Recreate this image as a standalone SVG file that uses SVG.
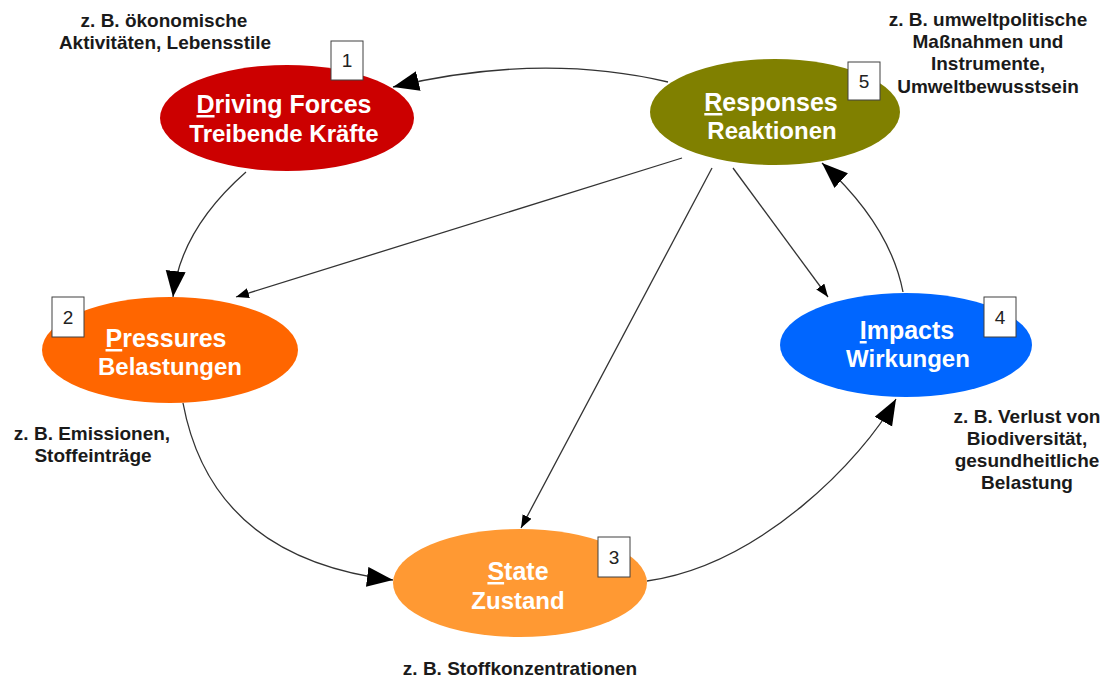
<svg xmlns="http://www.w3.org/2000/svg" width="1107" height="681" viewBox="0 0 1107 681">
<style>
.lbl{font-family:"Liberation Sans",Arial,sans-serif;font-weight:bold;fill:#fff;text-anchor:middle}
.l1{font-size:25px}
.l2{font-size:24px}
.u{text-decoration:underline}
.note{font-family:"Liberation Sans",Arial,sans-serif;font-weight:bold;font-size:19px;fill:#1a1a1a;text-anchor:middle}
.num rect{fill:#fff;stroke:#404040;stroke-width:1}
.num text{font-family:"Liberation Sans",Arial,sans-serif;font-size:19px;fill:#222;text-anchor:middle}
.edge{fill:none;stroke:#333;stroke-width:1.3}
</style>
<defs>
<marker id="big" markerUnits="userSpaceOnUse" markerWidth="28" markerHeight="22" refX="26" refY="10" orient="auto">
<path d="M0,0 L26,10 L0,20 z" fill="#000"/>
</marker>
<marker id="small" markerUnits="userSpaceOnUse" markerWidth="15" markerHeight="11" refX="13" refY="5" orient="auto">
<path d="M0,0 L13,5 L0,10 z" fill="#000"/>
</marker>
</defs>
<rect width="1107" height="681" fill="#fff"/>

<g id="connectors">
<path class="edge" d="M668,82 Q540,52 393,87" marker-end="url(#big)"/>
<path class="edge" d="M246,172 Q180,230 173,297" marker-end="url(#big)"/>
<path class="edge" d="M183,403 Q212,558 393,580" marker-end="url(#big)"/>
<path class="edge" d="M647,581 C760,565 862,460 896,399" marker-end="url(#big)"/>
<path class="edge" d="M903,292 Q890,225 822,163" marker-end="url(#big)"/>
<path class="edge" d="M682,158 L236,297" marker-end="url(#small)"/>
<path class="edge" d="M712,168 L521,528" marker-end="url(#small)"/>
<path class="edge" d="M733,168 L828,297" marker-end="url(#small)"/>
</g>

<g id="driving">
<ellipse cx="287" cy="118" rx="127" ry="53" fill="#CC0000"/>
<text class="lbl l1" x="284" y="113"><tspan class="u">D</tspan>riving Forces</text>
<text class="lbl l2" x="284" y="142">Treibende Kräfte</text>
</g>

<g id="responses">
<ellipse cx="775" cy="112" rx="125" ry="53" fill="#808000"/>
<text class="lbl l1" x="771" y="111"><tspan class="u">R</tspan>esponses</text>
<text class="lbl l2" x="772" y="139">Reaktionen</text>
</g>

<g id="pressures">
<ellipse cx="170" cy="350" rx="128" ry="53" fill="#FF6600"/>
<text class="lbl l1" x="166" y="347"><tspan class="u">P</tspan>ressures</text>
<text class="lbl l2" x="170" y="375">Belastungen</text>
</g>

<g id="impacts">
<ellipse cx="906" cy="345" rx="126" ry="52" fill="#0066FF"/>
<text class="lbl l1" x="907" y="339"><tspan class="u">I</tspan>mpacts</text>
<text class="lbl l2" x="908" y="367">Wirkungen</text>
</g>

<g id="state">
<ellipse cx="520" cy="583" rx="127" ry="54" fill="#FF9933"/>
<text class="lbl l1" x="518" y="580"><tspan class="u">S</tspan>tate</text>
<text class="lbl l2" x="518" y="609">Zustand</text>
</g>

<g id="num1" class="num"><rect x="331" y="41" width="32" height="39"/><text x="347" y="67">1</text></g>
<g id="num2" class="num"><rect x="52" y="297" width="32" height="40"/><text x="68" y="324">2</text></g>
<g id="num3" class="num"><rect x="598" y="537" width="32" height="40"/><text x="614" y="564">3</text></g>
<g id="num4" class="num"><rect x="984" y="297" width="32" height="40"/><text x="1000" y="324">4</text></g>
<g id="num5" class="num"><rect x="848" y="62" width="32" height="38"/><text x="864" y="88">5</text></g>

<g id="note-driving">
<text class="note" x="164" y="27">z. B. ökonomische</text>
<text class="note" x="165" y="49">Aktivitäten, Lebensstile</text>
</g>
<g id="note-responses">
<text class="note" x="988" y="26">z. B. umweltpolitische</text>
<text class="note" x="988" y="48">Maßnahmen und</text>
<text class="note" x="988" y="70">Instrumente,</text>
<text class="note" x="988" y="93">Umweltbewusstsein</text>
</g>
<g id="note-pressures">
<text class="note" x="92" y="440">z. B. Emissionen,</text>
<text class="note" x="93" y="462">Stoffeinträge</text>
</g>
<g id="note-impacts">
<text class="note" x="1027" y="423">z. B. Verlust von</text>
<text class="note" x="1027" y="445">Biodiversität,</text>
<text class="note" x="1027" y="467">gesundheitliche</text>
<text class="note" x="1027" y="489">Belastung</text>
</g>
<g id="note-state">
<text class="note" x="520" y="675">z. B. Stoffkonzentrationen</text>
</g>
</svg>
